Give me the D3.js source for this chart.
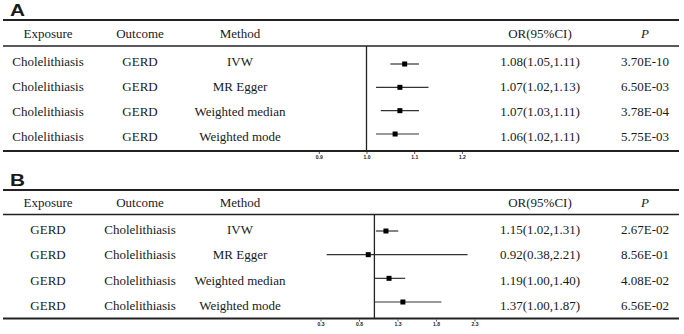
<!DOCTYPE html>
<html>
<head>
<meta charset="utf-8">
<script src="https://cdn.jsdelivr.net/npm/d3@7"></script>
<style>
  body { margin: 0; background: #fff; }
  svg { display: block; }
  text { font-family: "Liberation Serif", "Times New Roman", serif; fill: #1a1a1a; }
</style>
</head>
<body>
<svg width="684" height="334"></svg>
<script>
// data
var methods = ["IVW", "MR Egger", "Weighted median", "Weighted mode"];
var headers = ["Exposure", "Outcome", "Method", "OR(95%CI)", "P"];

var exposureA = "Cholelithiasis", outcomeA = "GERD";
var orA = [1.08, 1.07, 1.07, 1.06];
var lowA = [1.05, 1.02, 1.03, 1.02];
var highA = [1.11, 1.13, 1.11, 1.11];
var pA = ["3.70E-10", "6.50E-03", "3.78E-04", "5.75E-03"];
var ticksA = [0.9, 1.0, 1.1, 1.2];

var exposureB = "GERD", outcomeB = "Cholelithiasis";
var orB = [1.15, 0.92, 1.19, 1.37];
var lowB = [1.02, 0.38, 1.00, 1.00];
var highB = [1.31, 2.21, 1.40, 1.87];
var pB = ["2.67E-02", "8.56E-01", "4.08E-02", "6.56E-02"];
var ticksB = [0.3, 0.8, 1.3, 1.8, 2.3];

var svg = d3.select("svg");
var colX = [48, 140, 240, 540, 645];
var fmt = d3.format(".2f");

function panel(o) {
    var g = svg.append("g");
    var x = d3.scaleLinear().domain(o.domain).range(o.range);
    var yText = d3.scalePoint().domain(methods).range(o.textRows);
    var yMark = d3.scalePoint().domain(methods).range(o.markRows);

    g.append("text").text(o.label)
        .attr("transform", `translate(10,${o.top - 4}) scale(1.3,1)`)
        .style("font-family", "'Liberation Sans', Arial, sans-serif")
        .style("font-weight", "bold").style("font-size", "16px");

    // rules
    [[o.top, 2], [o.header, 1.6], [o.bottom, 2.2]].forEach(function(r){
        g.append("line").attr("x1", 3).attr("x2", 679)
            .attr("y1", r[0]).attr("y2", r[0])
            .attr("stroke", "#222").attr("stroke-width", r[1]);
    });

    // header
    g.selectAll("text.h").data(headers).enter().append("text")
        .attr("class", "h")
        .attr("x", (d, i) => colX[i]).attr("y", (o.top + o.header) / 2)
        .attr("dy", "0.35em").attr("text-anchor", "middle")
        .style("font-size", "13px")
        .style("font-style", (d, i) => i == 4 ? "italic" : null)
        .text(d => d);

    var rows = methods.map((m, i) => ({
        m: m, or: o.or[i], lo: o.low[i], hi: o.high[i], p: o.p[i]
    }));

    var row = g.selectAll("g.row").data(rows).enter().append("g").attr("class", "row");
    var cells = d => [o.exposure, o.outcome, d.m,
        `${fmt(d.or)}(${fmt(d.lo)},${fmt(d.hi)})`, d.p];
    row.each(function(d){
        d3.select(this).selectAll("text").data(cells(d)).enter().append("text")
            .attr("x", (c, i) => colX[i]).attr("y", yText(d.m))
            .attr("dy", "0.35em").attr("text-anchor", "middle")
            .style("font-size", "13px")
            .text(c => c);
    });

    // null line
    g.append("line").attr("x1", x(1)).attr("x2", x(1))
        .attr("y1", o.header).attr("y2", o.bottom)
        .attr("stroke", "#222").attr("stroke-width", 1.3);

    // CI + point
    row.append("line")
        .attr("x1", d => x(d.lo)).attr("x2", d => x(d.hi))
        .attr("y1", d => yMark(d.m)).attr("y2", d => yMark(d.m))
        .attr("stroke", "#333").attr("stroke-width", 1.2);
    row.append("rect")
        .attr("x", d => x(d.or) - 2.5).attr("y", d => yMark(d.m) - 2.5)
        .attr("width", 5).attr("height", 5).attr("fill", "#000");

    // axis ticks
    var ax = g.append("g").attr("transform", `translate(0,${o.bottom + 1})`)
        .call(d3.axisBottom(x).tickValues(o.ticks).tickFormat(d3.format(".1f"))
            .tickSize(2).tickPadding(1));
    ax.select(".domain").remove();
    ax.selectAll("line").attr("stroke", "#555");
    ax.selectAll("text").style("font-family", "'Liberation Sans', Arial, sans-serif")
        .style("font-size", "5px").style("font-weight", "bold").attr("fill", "#444");
}

panel({
    label: "A", top: 20, header: 46, bottom: 151,
    textRows: [61, 136.5], markRows: [64, 134],
    domain: [0.9, 1.2], range: [318.8, 461.9], ticks: ticksA,
    exposure: exposureA, outcome: outcomeA,
    or: orA, low: lowA, high: highA, p: pA
});

panel({
    label: "B", top: 190, header: 214.5, bottom: 318.5,
    textRows: [229, 305.5], markRows: [231, 302],
    domain: [0.3, 2.3], range: [320.5, 474.5], ticks: ticksB,
    exposure: exposureB, outcome: outcomeB,
    or: orB, low: lowB, high: highB, p: pB
});
</script>
</body>
</html>
